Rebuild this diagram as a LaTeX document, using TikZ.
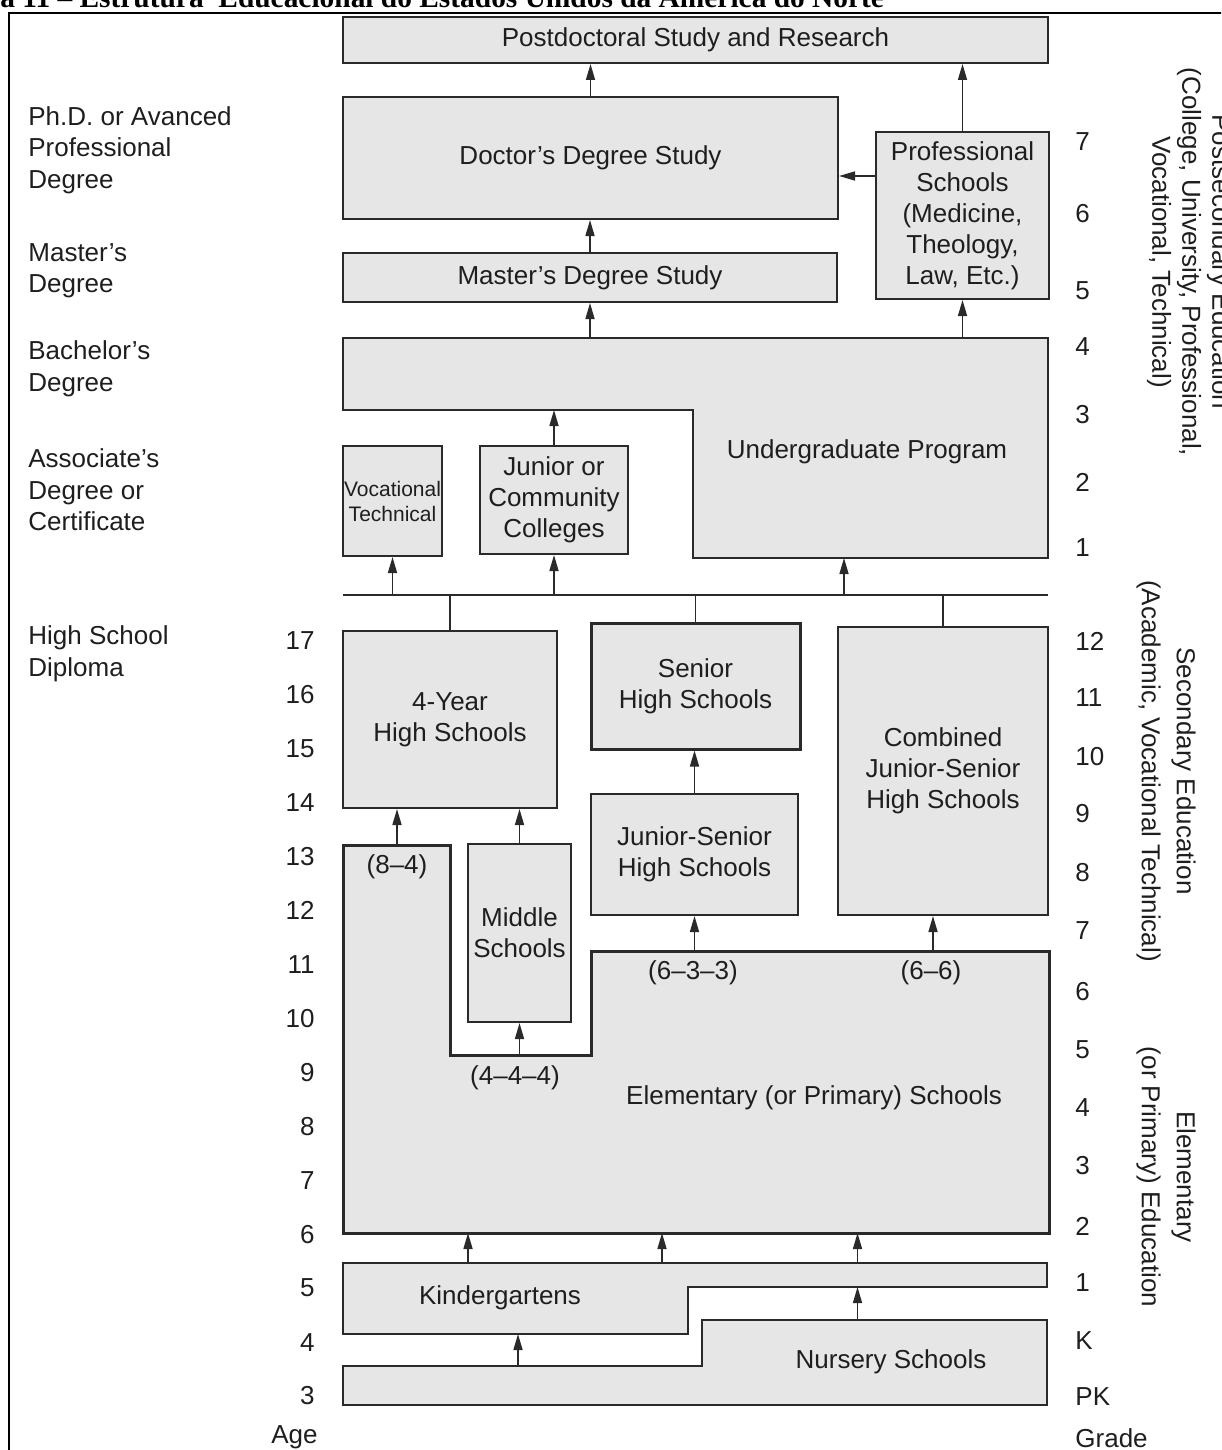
\documentclass[tikz,border=0pt]{standalone}
\usepackage{fontspec}
\setmainfont{Liberation Sans}
\newfontfamily\captionserif{Liberation Serif}
\usetikzlibrary{arrows.meta}
\definecolor{boxfill}{HTML}{E6E6E6}
\definecolor{boxline}{HTML}{2A2A2A}
\definecolor{ink}{HTML}{1E1E1E}
\newcommand\txtA{\fontsize{13pt}{15.5pt}\selectfont}
\newcommand\txtLeft{\fontsize{13pt}{15.75pt}\selectfont}
\newcommand\txtSmall{\fontsize{10.5pt}{12.5pt}\selectfont}
\begin{document}
\begin{tikzpicture}[x=0.5pt,y=-0.5pt,
  box/.style={draw=boxline, fill=boxfill, line width=1pt, inner sep=0pt, align=center, text=ink, font=\txtA},
  region/.style={draw=boxline, fill=boxfill, line width=1.2pt},
  arr/.style={-{Triangle[length=8pt,width=4.5pt]}, line width=0.8pt, draw=boxline},
  link/.style={line width=0.8pt, draw=boxline},
  lab/.style={text=ink, font=\txtA, inner sep=0pt},
  side/.style={lab, rotate=-90, align=center},
]
\useasboundingbox (0,0) rectangle (1221,1450);
\clip (0,0) rectangle (1221,1450);

% caption line and frame
\node[anchor=base west, inner sep=0pt, font=\captionserif\bfseries\fontsize{14.7pt}{17pt}\selectfont] (title) at (0,7.5)
  {a 11 – Estrutura\ \ Educacional do Estados Unidos da América do Norte};
\draw[line width=1pt, black] (9,1460) -- (9,13) -- (1230,13);

% postsecondary level
\node[box, minimum width=352.5pt, minimum height=23pt] (post) at (695.5,40) {Postdoctoral Study and Research};
\node[box, minimum width=247.5pt, minimum height=61pt] (doc) at (590.5,158) {Doctor's Degree Study};
\node[box, minimum width=247pt, minimum height=24.5pt] (mas) at (590,277.5) {Master's Degree Study};
\node[box, minimum width=86.5pt, minimum height=83.5pt] (prof) at (962.5,215.5) {Professional\\Schools\\(Medicine,\\Theology,\\Law, Etc.)};

\draw[region, line width=1.25pt] (343,338) -- (1048,338) -- (1048,558) -- (693,558) -- (693,410) -- (343,410) -- cycle;
\node[lab] (ug) at (867,452) {Undergraduate Program};
\coordinate (ugA) at (590,338);
\coordinate (ugB) at (962.5,338);
\coordinate (ugC) at (554,410);
\coordinate (ugD) at (844,558);

\node[box, font=\txtSmall, minimum width=49.5pt, minimum height=55pt] (voc) at (392.5,501) {Vocational\\Technical};
\node[box, minimum width=74pt, minimum height=54pt] (jcc) at (554,500) {Junior or\\Community\\Colleges};

\coordinate (ph) at (0,176);
\draw[arr] (doc.north) -- (doc.north |- post.south);
\draw[arr] (prof.north) -- (prof.north |- post.south);
\draw[arr] (mas.north) -- (mas.north |- doc.south);
\draw[arr] (prof.west |- ph) -- (doc.east |- ph);
\draw[arr] (ugA) -- (ugA |- mas.south);
\draw[arr] (ugB) -- (prof.south);
\draw[arr] (jcc.north) -- (ugC);

% secondary level
\node[box, minimum width=107pt, minimum height=88.5pt] (fy) at (450,719.5) {4-Year\\High Schools};
\node[box, line width=1.5pt, minimum width=104.5pt, minimum height=63pt] (shs) at (695.5,686) {Senior\\High Schools};
\node[box, minimum width=103.5pt, minimum height=60.5pt] (jshs) at (694.5,854.5) {Junior-Senior\\High Schools};
\node[box, minimum width=105pt, minimum height=144pt] (comb) at (943,771) {Combined\\Junior-Senior\\High Schools};
\node[box, minimum width=51.5pt, minimum height=89pt] (mid) at (519.5,933) {Middle\\Schools};

\coordinate (barL) at (343,595);
\coordinate (barR) at (1048,595);
\coordinate (b1) at (392.5,595);
\coordinate (b2) at (554,595);
\coordinate (b3) at (844,595);
\coordinate (b4) at (450,595);
\coordinate (b5) at (695.5,595);
\coordinate (b6) at (943,595);
\draw[link] (barL) -- (barR);
\draw[arr] (b1) -- (voc.south);
\draw[arr] (b2) -- (jcc.south);
\draw[arr] (b3) -- (ugD);
\draw[link] (b4) -- (fy.north);
\draw[link] (b5) -- (shs.north);
\draw[link] (b6) -- (comb.north);
\draw[arr] (jshs.north) -- (jshs.north |- shs.south);

% elementary level
\draw[region, line width=1.5pt] (343,845) -- (450,845) -- (450,1055) -- (591,1055) -- (591,951) -- (1049,951) -- (1049,1233) -- (343,1233) -- cycle;
\node[lab] (elem) at (814,1098) {Elementary (or Primary) Schools};
\node[lab] (p84) at (397,867) {(8–4)};
\node[lab] (p633) at (693,973) {(6–3–3)};
\node[lab] (p66) at (931,973) {(6–6)};
\node[lab] (p444) at (515,1078) {(4–4–4)};
\coordinate (e1) at (397,845);
\coordinate (e2) at (519.5,1055);
\coordinate (e3) at (694.5,951);
\coordinate (e4) at (933,951);
\coordinate (e5) at (468,1233);
\coordinate (e6) at (662,1233);
\coordinate (e7) at (857.5,1233);
\draw[arr] (e1) -- (e1 |- fy.south);
\draw[arr] (mid.north) -- (mid.north |- fy.south);
\draw[arr] (e2) -- (mid.south);
\draw[arr] (e3) -- (jshs.south);
\draw[arr] (e4) -- (e4 |- comb.south);

% pre-primary level
\draw[region, line width=1pt] (343,1263) -- (1047,1263) -- (1047,1287) -- (688,1287) -- (688,1334) -- (343,1334) -- cycle;
\node[lab] (kg) at (500,1298) {Kindergartens};
\coordinate (k1) at (468,1263);
\coordinate (k2) at (662,1263);
\coordinate (k3) at (857.5,1263);
\coordinate (k4) at (857.5,1287);
\coordinate (k5) at (518,1334);
\draw[region, line width=1pt] (343,1366) -- (702,1366) -- (702,1320) -- (1047,1320) -- (1047,1405) -- (343,1405) -- cycle;
\node[lab] (ns) at (891,1362) {Nursery Schools};
\coordinate (n1) at (857.5,1320);
\coordinate (n2) at (518,1366);
\draw[arr] (k1) -- (e5);
\draw[arr] (k2) -- (e6);
\draw[arr] (k3) -- (e7);
\draw[arr] (n1) -- (k4);
\draw[arr] (n2) -- (k5);

% degrees on the left
\node[lab, anchor=west, align=left, font=\txtLeft] (lphd) at (28,150) {Ph.D. or Avanced\\Professional\\Degree};
\node[lab, anchor=west, align=left, font=\txtLeft] (lmas) at (28,271) {Master's\\Degree};
\node[lab, anchor=west, align=left, font=\txtLeft] (lbach) at (28,369) {Bachelor's\\Degree};
\node[lab, anchor=west, align=left, font=\txtLeft] (lass) at (28,490) {Associate's\\Degree or\\Certificate};
\node[lab, anchor=west, align=left, font=\txtLeft] (lhs) at (28,654) {High School\\Diploma};

% age scale
\foreach \a in {3,...,17}
  \node[lab, anchor=east] (age\a) at (315,{641+(17-\a)*53.93}) {\a};
\node[lab, anchor=east] (agehead) at (318,1437) {Age};

% grade scale
\foreach \g/\y [count=\i] in {7/142,6/214,5/291,4/347,3/415,2/482,1/548,
    12/641,11/698,10/757,9/814,8/873,7/931,6/992,
    5/1050,4/1108,3/1166,2/1226,1/1283,K/1341,PK/1397}
  \node[lab, anchor=west] (gr\i) at (1075,\y) {\g};
\node[lab, anchor=west] (grhead) at (1075,1438) {Grade};

% level names
\node[side, font=\fontsize{13pt}{15pt}\selectfont] (postsec) at (1189,262) {Postsecondary Education\\(College, University, Professional,\\Vocational, Technical)};
\node[side, font=\fontsize{13pt}{17.5pt}\selectfont] (secnd) at (1166,771) {Secondary Education\\(Academic, Vocational Technical)};
\node[side, font=\fontsize{13pt}{17.5pt}\selectfont] (elemed) at (1166,1177) {Elementary\\(or Primary) Education};
\end{tikzpicture}
\end{document}
